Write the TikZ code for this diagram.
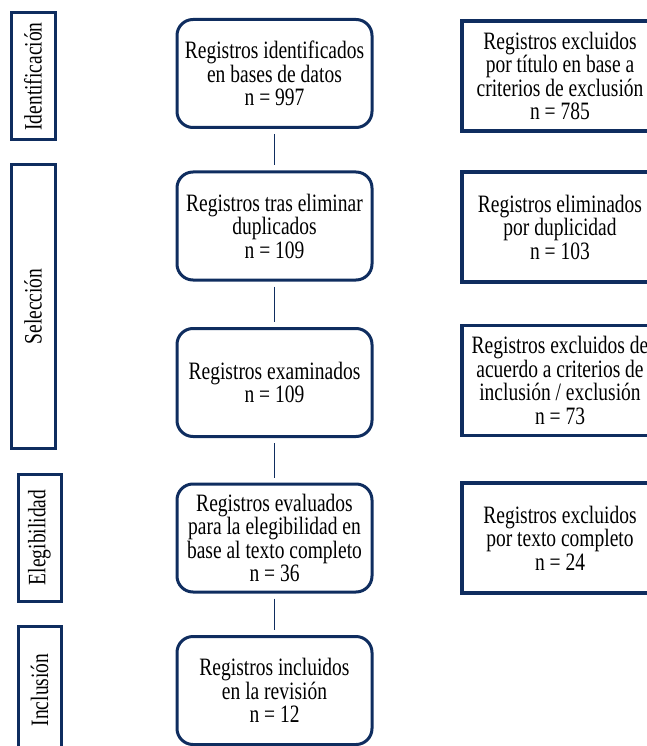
\documentclass[tikz,border=0pt]{standalone}
\usepackage{fontspec}
\setmainfont{Liberation Serif}[FakeStretch=0.78]
\usetikzlibrary{shapes, calc}

\begin{document}
\begin{tikzpicture}[x=1pt,y=-1pt,
	fase/.style={draw=mycolor,line width=3pt,inner sep=0pt},
	paso/.style={draw=mycolor,line width=3pt,rounded corners=16pt,minimum width=195pt,minimum height=108pt,align=center,inner sep=0pt},
	excl/.style={draw=mycolor,line width=3.5pt,minimum width=196pt,minimum height=110pt,align=center,inner sep=0pt},
	link/.style={draw=mycolor,line width=1.5pt,shorten <=5pt,shorten >=5pt},
	font=\fontsize{25}{23.5}\selectfont]
	\definecolor{mycolor}{RGB}{15,45,95}
	\useasboundingbox (0,0) rectangle (647,746);
	\clip (0,0) rectangle (647,746);

	% fases
	\node (f1) at (33,76.5) [fase,minimum width=127pt,minimum height=44pt,rotate=90] {Identificación};
	\node (f2) at (33,306.5) [fase,minimum width=283pt,minimum height=44pt,rotate=90] {Selección};
	\node (f3) at (39.5,537.5) [fase,minimum width=127pt,minimum height=43pt,rotate=90] {Elegibilidad};
	\node (f4) at (39.5,690) [fase,minimum width=128pt,minimum height=43pt,rotate=90] {Inclusión};

	% registros
	\node (r1) at (274.5,73.5) [paso] {Registros identificados\\en bases de datos\\n = 997};
	\node (r2) at (274.5,226) [paso] {Registros tras eliminar\\duplicados\\n = 109};
	\node (r3) at (274.5,382.5) [paso] {Registros examinados\\n = 109};
	\node (r4) at (274.5,538) [paso] {Registros evaluados\\para la elegibilidad en\\base al texto completo\\n = 36};
	\node (r5) at (274.5,690.5) [paso] {Registros incluidos\\en la revisión\\n = 12};

	\draw[link] (r1) -- (r2);
	\draw[link] (r2) -- (r3);
	\draw[link] (r3) -- (r4);
	\draw[link] (r4) -- (r5);

	% excluidos
	\node (e1) at (560,76) [excl] {Registros excluidos\\por título en base a\\criterios de exclusión\\n = 785};
	\node (e2) at (560,227) [excl] {Registros eliminados\\por duplicidad\\n = 103};
	\node (e3) at (560,380.5) [excl] {Registros excluidos de\\acuerdo a criterios de\\inclusión / exclusión\\n = 73};
	\node (e4) at (560,538) [excl] {Registros excluidos\\por texto completo\\n = 24};

\end{tikzpicture}
\end{document}
